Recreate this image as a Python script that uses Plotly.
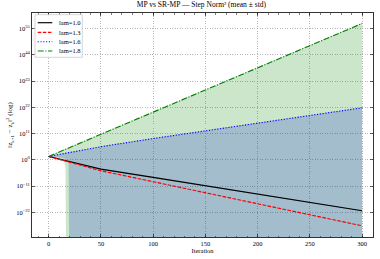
import plotly.graph_objects as go

iters = [0, 5, 10, 15, 16, 17, 19, 20, 25, 50, 100, 150, 200, 250, 300]

labels = ["lam=1.0", "lam=1.3", "lam=1.6", "lam=1.8"]
colors = ["#000000", "#ff0000", "#0000ff", "#008000"]
fills = ["rgba(0,0,0,0.2)", "rgba(255,0,0,0.2)", "rgba(0,0,255,0.2)", "rgba(0,128,0,0.2)"]
dashes = ["solid", "3.5px,1.6px", "1.1px,1.7px", "6px,1.6px,1.1px,1.6px"]

# log10 of mean step norm^2
mean_lam10 = [1.4, 0.87, 0.34, -0.19, -0.3, -0.4, -0.6, -0.7, -1.3, -3.9, -7.4, -10.9, -14.4, -17.9, -21.4]
mean_lam13 = [1.4, 0.8, 0.2, -0.4, -0.5, -0.6, -0.8, -0.9, -1.5, -4.6, -9.2, -13.8, -18.5, -23.1, -27.7]
mean_lam16 = [1.4, 1.8, 2.2, 2.6, 2.7, 2.8, 3.0, 3.1, 3.5, 5.5, 8.9, 12.1, 15.4, 18.6, 21.8]
mean_lam18 = [1.4, 2.3, 3.3, 4.2, 4.4, 4.6, 4.9, 5.1, 6.0, 10.7, 20.0, 29.3, 38.6, 47.9, 57.2]

# log10 of mean + std
hi_lam10 = [1.5, 0.97, 0.44, -0.09, -0.2, -0.3, -0.5, -0.6, -1.2, -3.8, -7.3, -10.8, -14.3, -17.8, -21.3]
hi_lam13 = [1.5, 0.9, 0.3, -0.3, -0.4, -0.5, -0.7, -0.8, -1.4, -4.5, -9.1, -13.7, -18.4, -23.0, -27.6]
hi_lam16 = [1.6, 2.0, 2.4, 2.8, 2.9, 3.0, 3.2, 3.3, 3.7, 5.7, 9.1, 12.3, 15.6, 18.8, 22.0]
hi_lam18 = [1.6, 2.5, 3.5, 4.4, 4.6, 4.8, 5.1, 5.3, 6.2, 10.9, 20.2, 29.5, 38.8, 48.1, 57.4]

# log10 of mean - std (-60 stands for a non-positive lower bound, clipped on log axis)
lo_lam10 = [1.2, 0.67, 0.14, -0.39, -0.5, -0.6, -0.8, -0.9, -1.5, -4.1, -7.6, -11.1, -14.6, -18.1, -21.6]
lo_lam13 = [1.2, 0.6, 0.0, -0.6, -0.7, -0.8, -1.0, -1.1, -1.7, -4.8, -9.4, -14.0, -18.7, -23.3, -27.9]
lo_lam16 = [1.2, 1.2, 1.0, 0.5, 0.3, 0.0, -1.0, -60, -60, -60, -60, -60, -60, -60, -60]
lo_lam18 = [1.2, 0.9, 0.3, -1.0, -3.0, -60, -60, -60, -60, -60, -60, -60, -60, -60, -60]

means = [mean_lam10, mean_lam13, mean_lam16, mean_lam18]
his = [hi_lam10, hi_lam13, hi_lam16, hi_lam18]
los = [lo_lam10, lo_lam13, lo_lam16, lo_lam18]

y_tickvals = [-22, -11, 0, 11, 22, 33, 44, 55]
x_tickvals = [0, 50, 100, 150, 200, 250, 300]

FONT = "Liberation Serif, Times New Roman, serif"

W, H = 380, 259
ML, MR, MT, MB = 32, 7, 13, 22
PW, PH = W - ML - MR, H - MT - MB


def pw(vals):
    return [10.0 ** float(v) for v in vals]


def px(x):  # pixel -> paper x
    return (x - ML) / PW


def py(y):  # pixel -> paper y
    return (H - MB - y) / PH


fig = go.Figure()
for i in range(4):
    fig.add_trace(go.Scatter(x=iters, y=pw(los[i]), mode="lines", line=dict(width=0),
                             showlegend=False, hoverinfo="skip"))
    fig.add_trace(go.Scatter(x=iters, y=pw(his[i]), mode="lines", line=dict(width=0),
                             fill="tonexty", fillcolor=fills[i],
                             showlegend=False, hoverinfo="skip"))
for i in range(4):
    fig.add_trace(go.Scatter(x=iters, y=pw(means[i]), mode="lines",
                             name=labels[i], showlegend=False,
                             line=dict(color=colors[i], width=1.15, dash=dashes[i])))

# compact matplotlib-style legend box
shapes = [dict(type="rect", xref="paper", yref="paper",
               x0=px(35), x1=px(82.3), y0=py(57.3), y1=py(14.7),
               fillcolor="rgba(255,255,255,0.9)", line=dict(color="#cccccc", width=0.8),
               layer="above")]
annotations = []
row_y = [22.7, 32.3, 41.7, 51.0]
for i in range(4):
    shapes.append(dict(type="line", xref="paper", yref="paper",
                       x0=px(37.7), x1=px(52.3), y0=py(row_y[i]), y1=py(row_y[i]),
                       line=dict(color=colors[i], width=1.15, dash=dashes[i]), layer="above"))
    annotations.append(dict(xref="paper", yref="paper", x=px(56.5), y=py(row_y[i]),
                            xanchor="left", yanchor="middle", showarrow=False,
                            text=labels[i], font=dict(family=FONT, size=6.5, color="#000000")))

axis_common = dict(
    showline=True, linecolor="#000000", linewidth=0.8, mirror="allticks",
    ticks="inside", ticklen=3, tickwidth=0.6, tickcolor="#000000",
    showgrid=True, gridcolor="#9a9a9a", gridwidth=0.7, griddash="1px,1.5px",
    zeroline=False, automargin=False,
    tickfont=dict(family=FONT, size=6.5, color="#000000"),
)

fig.update_xaxes(
    range=[-16, 310.4], tickvals=x_tickvals, ticktext=[str(v) for v in x_tickvals],
    title=dict(text="Iteration", font=dict(family=FONT, size=6.5, color="#000000"), standoff=1),
    minor=dict(ticks="inside", ticklen=1.5, tickwidth=0.5, tickcolor="#000000", dtick=10, showgrid=False),
    **axis_common,
)
fig.update_yaxes(
    type="log", range=[-32.4, 61.6],
    tickvals=pw(y_tickvals),
    ticktext=["10<sup>%d</sup>" % v if v >= 0 else "10<sup>−%d</sup>" % (-v) for v in y_tickvals],
    title=dict(text="‖z<sub>k+1</sub> − z<sub>k</sub>‖<sup>2</sup> (log)",
               font=dict(family=FONT, size=7, color="#000000"), standoff=2),
    **axis_common,
)

fig.update_layout(
    width=W, height=H,
    margin=dict(l=ML, r=MR, t=MT, b=MB),
    paper_bgcolor="white", plot_bgcolor="white",
    title=dict(text="MP vs SR-MP — Step Norm² (mean ± std)",
               font=dict(family=FONT, size=7.5, color="#000000"),
               x=0.53, xanchor="center", y=0.995, yanchor="top"),
    font=dict(family=FONT, size=6.5, color="#000000"),
    showlegend=False,
    shapes=shapes, annotations=annotations,
)

fig.write_html("out.html", config={"displayModeBar": False, "staticPlot": True},
               post_script="document.body.style.margin='0px';document.body.style.padding='0px';")
